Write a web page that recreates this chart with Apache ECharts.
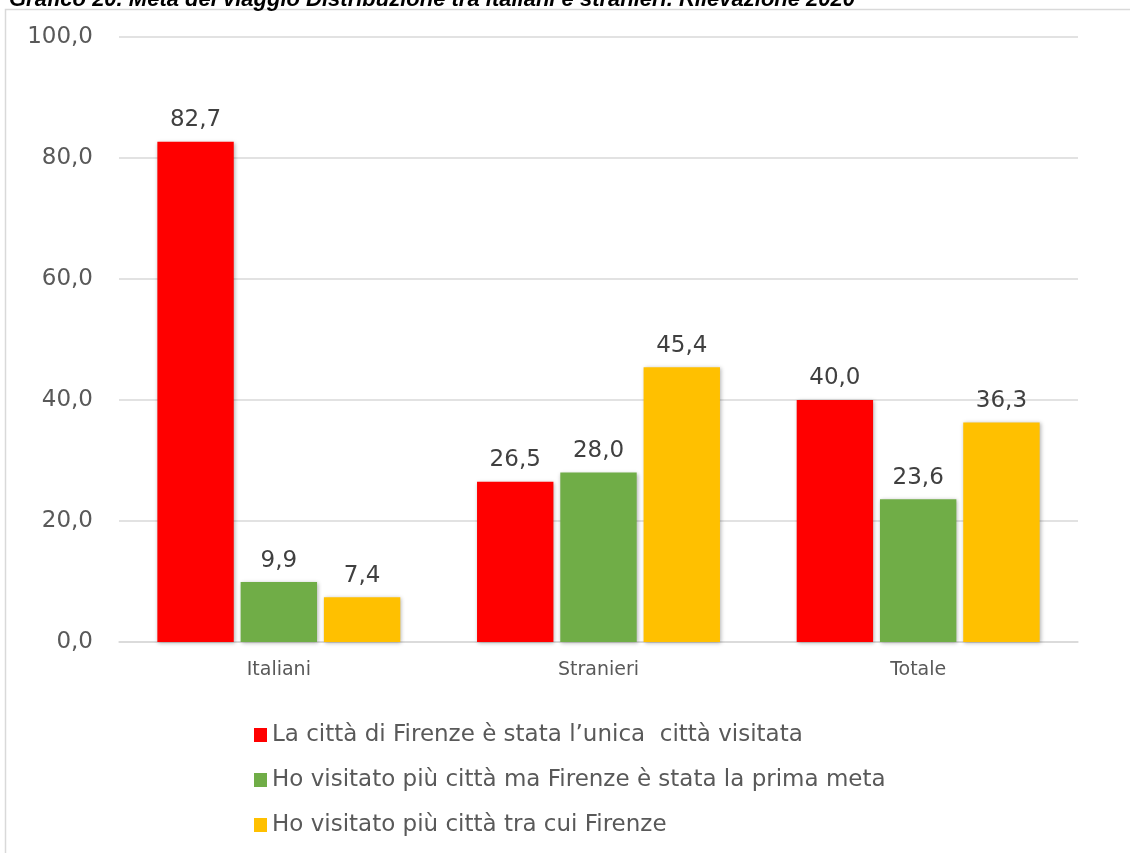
<!DOCTYPE html>
<html lang="it">
<head>
<meta charset="UTF-8">
<title>Meta del viaggio</title>
<script src="https://cdn.jsdelivr.net/npm/echarts@6/dist/echarts.min.js"></script>
<style>
  html, body { margin: 0; padding: 0; background: #fff; }
  #main { width: 1130px; height: 853px; }
</style>
</head>
<body>
<div id="main"></div>
<script type="text/javascript">
    // dati
    var categorie = ['Italiani', 'Stranieri', 'Totale'];
    var serieNomi = [
        'La città di Firenze è stata l’unica  città visitata',
        'Ho visitato più città ma Firenze è stata la prima meta',
        'Ho visitato più città tra cui Firenze'
    ];
    var unicaCitta = [82.7, 26.5, 40.0];
    var primaMeta = [9.9, 28.0, 23.6];
    var traCui = [7.4, 45.4, 36.3];
    var colori = ['#FF0000', '#70AD47', '#FFC000'];

    var myChart = echarts.init(document.getElementById('main'));

    function fmt(v) {
        return Number(v).toFixed(1).replace('.', ',');
    }

    function serie(nome, dati, colore) {
        return {
            name: nome,
            type: 'bar',
            data: dati,
            barGap: '9%',
            barCategoryGap: '24%',
            itemStyle: {
                color: colore,
                shadowBlur: 4,
                shadowColor: 'rgba(0,0,0,0.3)',
                shadowOffsetX: 1,
                shadowOffsetY: 1
            },
            label: {
                show: true,
                position: 'top',
                distance: 10,
                color: '#404040',
                fontSize: 23,
                fontFamily: 'DejaVu Sans',
                formatter: function (p) { return fmt(p.value); }
            }
        };
    }

    var option = {
        animation: false,
        title: {
            text: 'Grafico 20. Meta del viaggio Distribuzione tra italiani e stranieri. Rilevazione 2020',
            left: 4,
            top: -16,
            textStyle: {
                fontFamily: 'Liberation Sans',
                fontStyle: 'italic',
                fontWeight: 'bold',
                fontSize: 22,
                color: '#000'
            }
        },
        graphic: [{
            type: 'rect',
            shape: { x: 5.5, y: 9.5, width: 1140, height: 860 },
            style: { fill: 'none', stroke: '#D9D9D9', lineWidth: 1.5 },
            silent: true
        }],
        legend: {
            orient: 'vertical',
            left: 249,
            top: 718,
            itemWidth: 13,
            itemHeight: 14,
            itemGap: 21,
            icon: 'rect',
            textStyle: {
                fontFamily: 'DejaVu Sans',
                fontSize: 23,
                color: '#595959',
                lineHeight: 24
            }
        },
        grid: {
            left: 119,
            right: 52,
            top: 37,
            bottom: 211,
            containLabel: false
        },
        xAxis: {
            type: 'category',
            data: categorie,
            axisLine: { lineStyle: { color: '#D9D9D9', width: 1.5 } },
            axisTick: { show: false },
            axisLabel: {
                color: '#595959',
                fontSize: 19,
                fontFamily: 'DejaVu Sans',
                margin: 19
            }
        },
        yAxis: {
            type: 'value',
            min: 0,
            max: 100,
            interval: 20,
            axisLine: { show: false },
            axisTick: { show: false },
            splitLine: { lineStyle: { color: '#D9D9D9', width: 1.5 } },
            axisLabel: {
                color: '#595959',
                fontSize: 23,
                fontFamily: 'DejaVu Sans',
                margin: 26,
                formatter: fmt
            }
        },
        series: [
            serie(serieNomi[0], unicaCitta, colori[0]),
            serie(serieNomi[1], primaMeta, colori[1]),
            serie(serieNomi[2], traCui, colori[2])
        ]
    };

    myChart.setOption(option);
</script>
</body>
</html>
